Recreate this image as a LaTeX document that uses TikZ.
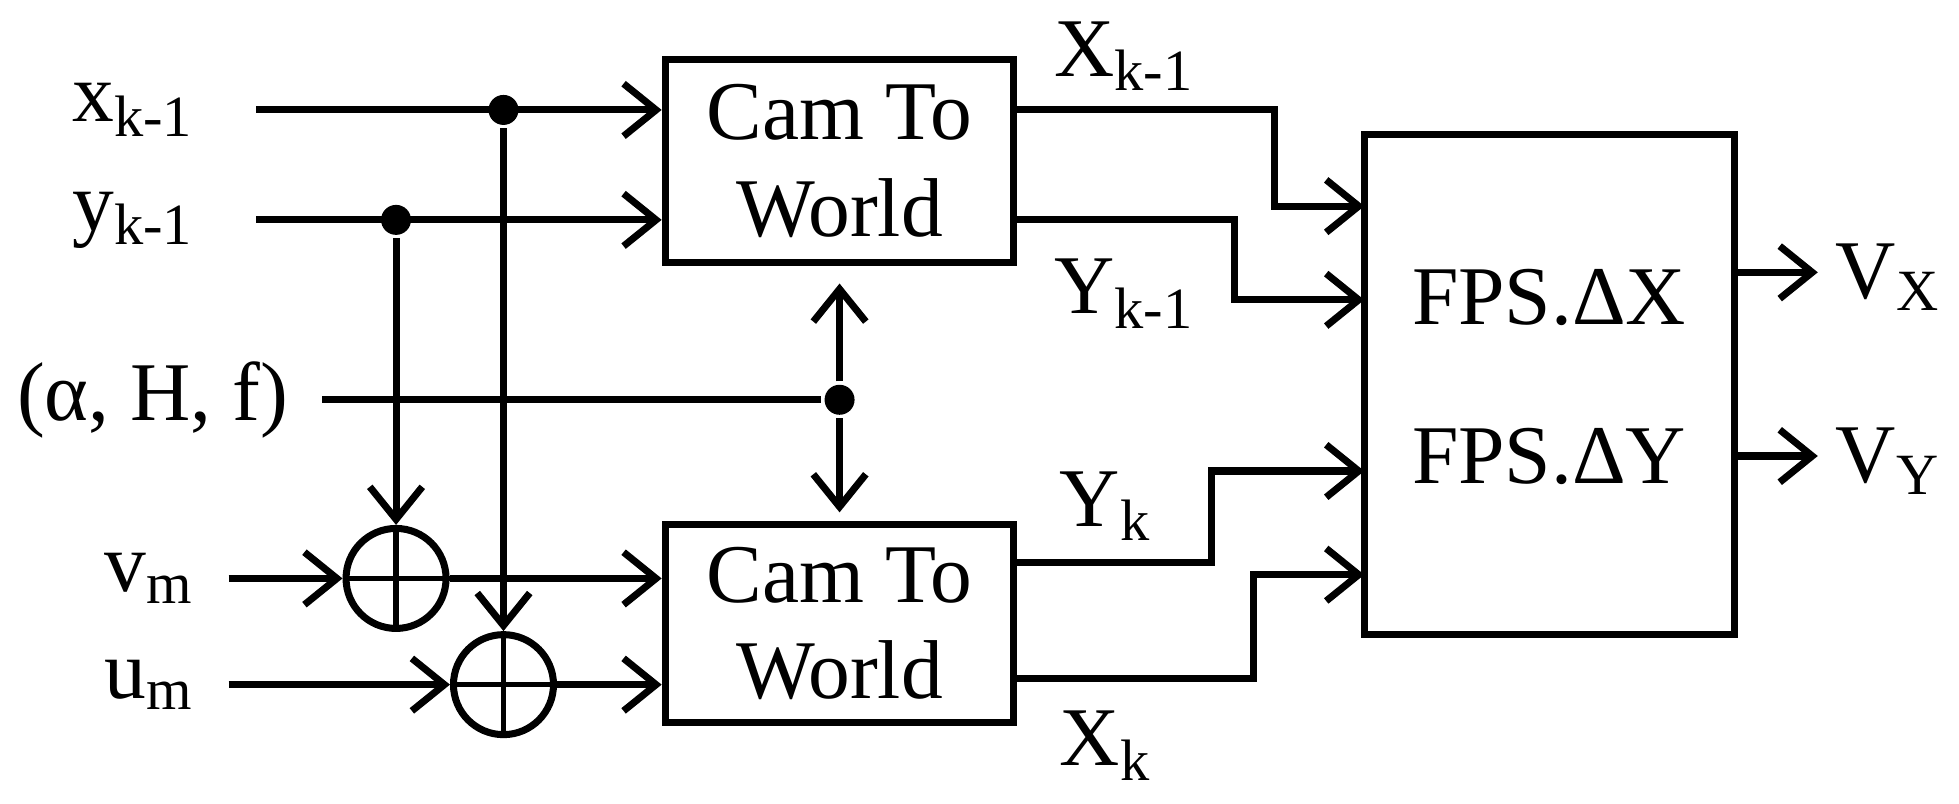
\documentclass[tikz,border=0pt]{standalone}
\usepackage{fontspec}
\setmainfont{Liberation Serif}
\usetikzlibrary{arrows.meta,calc}
\begin{document}
\begin{tikzpicture}[x=0.01cm,y=-0.01cm,font=\fontsize{19}{22}\selectfont,
	line width=1.6pt,>={Straight Barb[length=2.6mm,width=4.2mm,line width=1.6pt]}]
	\tikzstyle{block} = [draw,line width=1.6pt,inner sep=0pt,align=center]
	\tikzstyle{sum} = [draw,circle,line width=1.6pt,minimum size=0.8cm,inner sep=0pt]
	\tikzstyle{dot} = [circle,fill,inner sep=0pt,minimum size=0.24cm]
	\useasboundingbox (0,0) rectangle (1568,643);

	\node[block,minimum width=2.79cm,minimum height=1.62cm] (cw1) at (672,129){Cam To\\World};
	\node[block,minimum width=2.79cm,minimum height=1.58cm] (cw2) at (672,499){Cam To\\World};
	\node[block,minimum width=2.96cm,minimum height=4.0cm] (fps) at (1240,308){};
	\node at (1240,238){FPS.ΔX};
	\node at (1240,365){FPS.ΔY};

	\node[sum] (s1) at (317,463){};
	\node[sum] (s2) at (403,548){};
	\draw[line width=1.2pt] (s1.north) -- (s1.south) (s1.west) -- (s1.east);
	\draw[line width=1.2pt] (s2.north) -- (s2.south) (s2.west) -- (s2.east);

	% inputs
	\node[anchor=east] (xk) at (170,88){x\textsubscript{k-1}};
	\node[anchor=east] (yk) at (170,176){y\textsubscript{k-1}};
	\node[anchor=east] (par) at (245,320){(α, H, f)};
	\node[anchor=east] (vm) at (170,463){v\textsubscript{m}};
	\node[anchor=east] (um) at (170,548){u\textsubscript{m}};
	\coordinate (xs) at (205,88);
	\coordinate (ys) at (205,176);
	\coordinate (ps) at (258,320);
	\coordinate (vs) at (183,463);
	\coordinate (us) at (183,548);

	\node[dot] (d1) at (403,88){};
	\node[dot] (d2) at (317,176){};
	\node[dot] (d3) at (672,320){};

	\draw[->] (xs) -- (xs -| cw1.west);
	\draw[->] (ys) -- (ys -| cw1.west);
	\draw (ps) -- (d3);
	\draw[->,shorten >=4pt] (d3) -- (cw1.south);
	\draw[->,shorten >=2pt] (d3) -- (cw2.north);
	\draw[->] (d2) -- (s1.north);
	\draw[->] (d1) -- (s2.north);
	\draw[->] (vs) -- (s1.west);
	\draw[->] (us) -- (s2.west);
	\draw[->] (s1.east) -- (s1 -| cw2.west);
	\draw[->] (s2.east) -- (s2 -| cw2.west);

	% outputs
	\draw[->] (812,88) -- (1020,88) -- (1020,165) -- (1092,165);
	\draw[->] (812,176) -- (988,176) -- (988,240) -- (1092,240);
	\draw[->] (812,450) -- (970,450) -- (970,377) -- (1092,377);
	\draw[->] (812,543) -- (1003,543) -- (1003,460) -- (1092,460);
	\node at (900,45){X\textsubscript{k-1}};
	\node at (900,235){Y\textsubscript{k-1}};
	\node at (885,405){Y\textsubscript{k}};
	\node at (885,597){X\textsubscript{k}};

	\coordinate (vx) at (1455,218);
	\coordinate (vy) at (1455,365);
	\draw[->] (1388,218) -- (vx);
	\draw[->] (1388,365) -- (vy);
	\node[anchor=west] (lvx) at (1455,222){V\textsubscript{X}};
	\node[anchor=west] (lvy) at (1455,369){V\textsubscript{Y}};
\end{tikzpicture}
\end{document}
